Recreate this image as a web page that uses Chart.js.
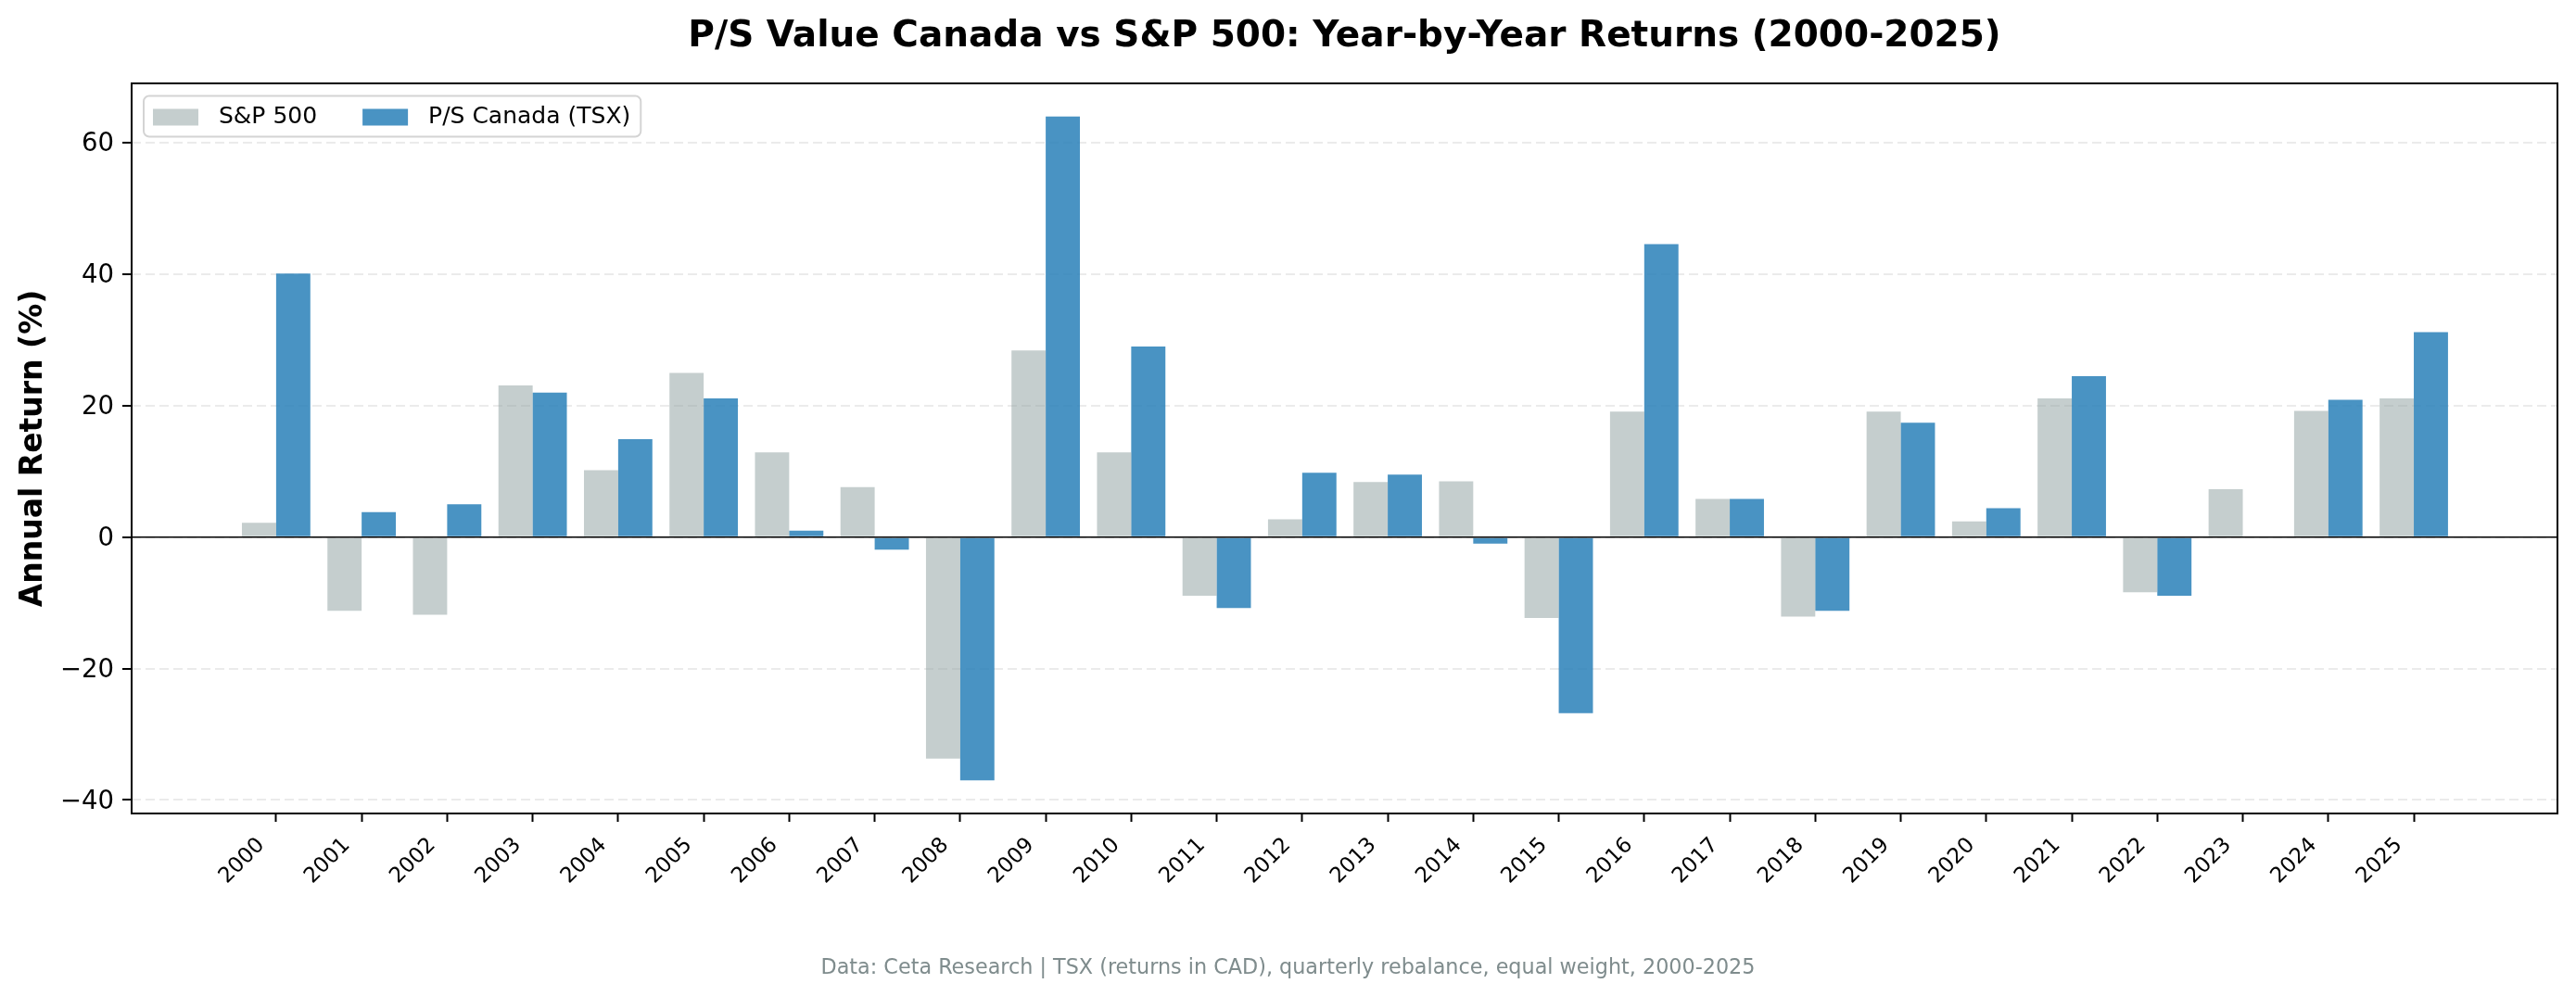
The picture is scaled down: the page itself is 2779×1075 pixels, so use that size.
<!DOCTYPE html>
<html>
<head>
<meta charset="utf-8">
<title>P/S Value Canada vs S&P 500</title>
<script src="https://cdn.jsdelivr.net/npm/chart.js@4.4.1/dist/chart.umd.min.js"></script>
<style>
  html, body { margin: 0; padding: 0; background: #fff; }
  #wrap { width: 2779px; height: 1075px; position: relative; }
</style>
</head>
<body>
<div id="wrap"><canvas id="chart"></canvas></div>
<script>
// ---- data ----
const years = [2000, 2001, 2002, 2003, 2004, 2005, 2006, 2007, 2008, 2009, 2010, 2011, 2012,
               2013, 2014, 2015, 2016, 2017, 2018, 2019, 2020, 2021, 2022, 2023, 2024, 2025];
const sp500 = [2.2, -11.2, -11.8, 23.1, 10.2, 25.0, 12.9, 7.6, -33.7, 28.4, 12.9, -8.9, 2.7,
               8.4, 8.5, -12.3, 19.1, 5.8, -12.1, 19.1, 2.4, 21.1, -8.4, 7.3, 19.2, 21.1];
const psCanada = [40.1, 3.8, 5.0, 22.0, 14.9, 21.1, 1.0, -1.9, -37.0, 64.0, 29.0, -10.8, 9.8,
                  9.5, -1.0, -26.8, 44.6, 5.8, -11.2, 17.4, 4.4, 24.5, -8.9, null, 20.9, 31.2];
const yTicks = [-40, -20, 0, 20, 40, 60];
const seriesNames = ['S&P 500', 'P/S Canada (TSX)'];

const titleText = 'P/S Value Canada vs S&P 500: Year-by-Year Returns (2000-2025)';
const yTitleText = 'Annual Return (%)';
const footText = 'Data: Ceta Research | TSX (returns in CAD), quarterly rebalance, equal weight, 2000-2025';

const SP_COLOR = 'rgba(149, 165, 166, 0.55)';
const TSX_COLOR = 'rgba(41, 128, 185, 0.85)';
const FONT = "'DejaVu Sans', 'Liberation Sans', sans-serif";

Chart.defaults.font.family = FONT;
Chart.defaults.color = '#000';

// Title + footer drawn on the figure
const figureText = {
  id: 'figureText',
  afterDraw(chart) {
    const ctx = chart.ctx;
    const a = chart.chartArea;
    ctx.save();
    ctx.fillStyle = '#000';
    ctx.textAlign = 'center';
    ctx.textBaseline = 'alphabetic';
    ctx.font = `bold 39px ${FONT}`;
    ctx.fillText(titleText, (a.left + a.right) / 2, 50);

    ctx.fillStyle = '#7f8c8d';
    ctx.font = `22.3px ${FONT}`;
    ctx.fillText(footText, chart.width / 2, 1051);
    ctx.restore();
  }
};

// Zero line + axes frame
const frameLines = {
  id: 'frameLines',
  afterDatasetsDraw(chart) {
    const ctx = chart.ctx;
    const a = chart.chartArea;
    const y0 = chart.scales.y.getPixelForValue(0);
    ctx.save();
    ctx.strokeStyle = '#000';
    ctx.lineWidth = 1.6;
    ctx.beginPath();
    ctx.moveTo(a.left, y0);
    ctx.lineTo(a.right, y0);
    ctx.stroke();

    ctx.lineWidth = 2;
    ctx.strokeRect(a.left, a.top, a.right - a.left, a.bottom - a.top);
    ctx.restore();
  }
};

// Legend in the upper left corner of the plot
const innerLegend = {
  id: 'innerLegend',
  afterDraw(chart) {
    const ctx = chart.ctx;
    const a = chart.chartArea;
    const colors = [SP_COLOR, TSX_COLOR];
    ctx.save();
    ctx.font = `25px ${FONT}`;
    const bx = a.left + 13, by = a.top + 13.5, bh = 44;
    const swW = 49, swH = 18;
    let x = bx + 10;
    const items = seriesNames.map((name, i) => {
      const it = { name, color: colors[i], sx: x, tx: x + swW + 22 };
      x = it.tx + ctx.measureText(name).width + 49;
      return it;
    });
    const last = items[items.length - 1];
    const bw = last.tx + ctx.measureText(last.name).width + 11 - bx;

    ctx.beginPath();
    ctx.roundRect(bx, by, bw, bh, 6);
    ctx.fillStyle = 'rgba(255,255,255,0.85)';
    ctx.fill();
    ctx.strokeStyle = '#d4d4d4';
    ctx.lineWidth = 2;
    ctx.stroke();

    const cy = by + bh / 2;
    ctx.textBaseline = 'middle';
    items.forEach(it => {
      ctx.fillStyle = it.color;
      ctx.fillRect(it.sx, cy - swH / 2 + 1, swW, swH);
      ctx.fillStyle = '#000';
      ctx.fillText(it.name, it.tx, cy + 1);
    });
    ctx.restore();
  }
};

const ctx = document.getElementById('chart').getContext('2d');
new Chart(ctx, {
  type: 'bar',
  data: {
    datasets: [
      {
        label: seriesNames[0],
        data: years.map((yr, i) => ({ x: yr, y: sp500[i] })),
        backgroundColor: SP_COLOR,
        borderWidth: 0,
        categoryPercentage: 0.8,
        barPercentage: 1.0
      },
      {
        label: seriesNames[1],
        data: years.map((yr, i) => ({ x: yr, y: psCanada[i] })),
        backgroundColor: TSX_COLOR,
        borderWidth: 0,
        categoryPercentage: 0.8,
        barPercentage: 1.0
      }
    ]
  },
  options: {
    responsive: true,
    maintainAspectRatio: false,
    animation: false,
    devicePixelRatio: 1,
    layout: { padding: { top: 90, right: 20, bottom: 0, left: 0 } },
    plugins: {
      legend: { display: false },
      tooltip: { enabled: false },
      title: { display: false }
    },
    scales: {
      x: {
        type: 'linear',
        min: 1998.31,
        max: 2026.68,
        offset: false,
        grid: {
          offset: false,
          drawOnChartArea: false,
          drawTicks: true,
          tickLength: 9,
          tickWidth: 2,
          tickColor: '#000'
        },
        border: { display: false },
        ticks: {
          font: { size: 23 },
          color: '#000',
          minRotation: 45,
          maxRotation: 45,
          autoSkip: false,
          padding: 12,
          labelOffset: -16,
          callback: v => String(v)
        },
        afterBuildTicks: axis => { axis.ticks = years.map(v => ({ value: v })); },
        afterFit: axis => { axis.height = 197; }
      },
      y: {
        min: -42.05,
        max: 69.05,
        grid: {
          color: '#ebebeb',
          lineWidth: 2,
          drawTicks: true,
          tickLength: 10,
          tickWidth: 2,
          tickColor: '#000',
          tickBorderDash: []
        },
        border: { display: false, dash: [10, 5] },
        ticks: {
          font: { size: 27.5 },
          color: '#000',
          padding: 9,
          labelOffset: 2,
          includeBounds: false,
          callback: v => (v < 0 ? '\u2212' + Math.abs(v) : String(v))
        },
        afterBuildTicks: axis => { axis.ticks = yTicks.map(v => ({ value: v })); },
        afterFit: axis => { axis.width = 142; },
        title: {
          display: true,
          text: yTitleText,
          color: '#000',
          font: { size: 33, weight: 'bold' },
          padding: { top: 17, bottom: 0 }
        }
      }
    }
  },
  plugins: [figureText, frameLines, innerLegend]
});
</script>
</body>
</html>
